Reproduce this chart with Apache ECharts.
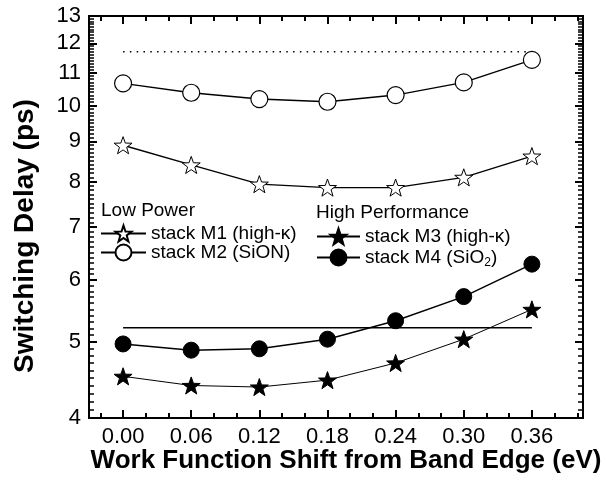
<!DOCTYPE html>
<html><head><meta charset="utf-8">
<script src="https://cdn.jsdelivr.net/npm/echarts@6/dist/echarts.min.js"></script>
<style>html,body{margin:0;padding:0;background:#fff}#c{width:607px;height:489px}</style>
</head><body><div id="c"></div>
<script>
const xValues = [0.00, 0.06, 0.12, 0.18, 0.24, 0.30, 0.36];
const m1 = [8.90, 8.40, 7.94, 7.86, 7.86, 8.10, 8.62];
const m2 = [10.67, 10.38, 10.19, 10.11, 10.31, 10.70, 11.43];
const m3 = [4.52, 4.40, 4.38, 4.47, 4.70, 5.04, 5.50];
const m4 = [4.97, 4.88, 4.90, 5.04, 5.32, 5.71, 6.28];
const dottedRef = 11.71;
const solidRef = 5.21;
const xTicks = [0.00, 0.06, 0.12, 0.18, 0.24, 0.30, 0.36];
const xMinorTicks = [-0.02, 0.02, 0.04, 0.08, 0.10, 0.14, 0.16, 0.20, 0.22, 0.26, 0.28, 0.32, 0.34, 0.38, 0.40];
const yTicks = [4, 5, 6, 7, 8, 9, 10, 11, 12, 13];
const names = ['stack M1 (high-κ)', 'stack M2 (SiON)', 'stack M3 (high-κ)', 'stack M4 (SiO{sub|2})'];

const yMinorTicks = [];
for (let i = 40; i < 130; i++) { if (i % 10 !== 0) yMinorTicks.push(i / 10); }

const STAR = 'path://M50 0 L61.76 33.82 L97.55 34.55 L69.02 56.18 L79.39 90.45 L50 70 L20.61 90.45 L30.98 56.18 L2.45 34.55 L38.24 33.82 Z';
const FONT = 'Liberation Sans';
const XMIN = -0.03, XMAX = 0.405;

function pairs(ys) { return xValues.map((x, i) => [x, ys[i]]); }

function xAxisDef(grid, pos, ticks, len, w, labels) {
  return {
    gridIndex: grid, type: 'value', position: pos, min: XMIN, max: XMAX,
    axisLine: { show: true, onZero: false, lineStyle: { color: '#000', width: 2 } },
    axisTick: { show: true, inside: true, length: len, customValues: ticks, lineStyle: { color: '#000', width: w } },
    axisLabel: labels ? { show: true, customValues: ticks, margin: 8, color: '#000', fontSize: 22, fontFamily: FONT, formatter: v => v.toFixed(2) } : { show: false },
    splitLine: { show: false }
  };
}
function yAxisDef(grid, pos, ticks, len, w, labels) {
  return {
    gridIndex: grid, type: 'log', logBase: 10, position: pos, min: 4, max: 13,
    axisLine: { show: true, onZero: false, lineStyle: { color: '#000', width: 2 } },
    axisTick: { show: true, inside: true, length: len, customValues: ticks, lineStyle: { color: '#000', width: w } },
    axisLabel: labels ? { show: true, customValues: ticks, margin: 8, color: '#000', fontSize: 22, fontFamily: FONT, formatter: v => String(Math.round(v)) } : { show: false },
    splitLine: { show: false }
  };
}

const chart = echarts.init(document.getElementById('c'), null, { renderer: 'canvas' });
const legendText = { color: '#000', fontSize: 19, fontFamily: FONT, rich: { sub: { fontSize: 12, fontFamily: FONT, verticalAlign: 'bottom', padding: [10, 0, 0, 0] } } };
const gridBox = { left: 89, right: 24, top: 16, bottom: 71, containLabel: false };

chart.setOption({
  animation: false,
  backgroundColor: '#fff',
  grid: [Object.assign({}, gridBox), Object.assign({}, gridBox)],
  xAxis: [
    xAxisDef(0, 'bottom', xTicks, 8, 2, true),
    xAxisDef(0, 'top', xTicks, 8, 2, false),
    xAxisDef(1, 'bottom', xMinorTicks, 5, 2, false),
    xAxisDef(1, 'top', xMinorTicks, 5, 2, false)
  ],
  yAxis: [
    yAxisDef(0, 'left', yTicks, 8, 2, true),
    yAxisDef(0, 'right', yTicks, 8, 2, false),
    yAxisDef(1, 'left', yMinorTicks, 5, 1.5, false),
    yAxisDef(1, 'right', yMinorTicks, 5, 1.5, false)
  ],
  title: [
    { text: 'Low Power', left: 101, top: 201, textStyle: { color: '#000', fontSize: 19, fontWeight: 'normal', fontFamily: FONT }, padding: 0 },
    { text: 'High Performance', left: 316, top: 203, textStyle: { color: '#000', fontSize: 19, fontWeight: 'normal', fontFamily: FONT }, padding: 0 }
  ],
  graphic: [
    { type: 'text', x: 11, y: 236, rotation: Math.PI / 2,
      style: { text: 'Switching Delay (ps)', font: 'bold 28px "Liberation Sans"', fill: '#000', align: 'center', verticalAlign: 'top' } },
    { type: 'text', x: 346, y: 461,
      style: { text: 'Work Function Shift from Band Edge (eV)', font: 'bold 26px "Liberation Sans"', fill: '#000', align: 'center', verticalAlign: 'middle' } }
  ],
  legend: [
    { data: [names[0], names[1]], orient: 'vertical', left: 100, top: 224, itemWidth: 45, itemHeight: 20, itemGap: 0, padding: 0, textStyle: legendText, selectedMode: false },
    { data: [names[2], names[3]], orient: 'vertical', left: 316, top: 227, itemWidth: 43, itemHeight: 20, itemGap: 2, padding: 0, textStyle: legendText, selectedMode: false }
  ],
  series: [
    { name: 'dotted', type: 'line', data: [[xTicks[0], dottedRef], [xTicks[xTicks.length - 1], dottedRef]], symbol: 'none', lineStyle: { color: '#000', width: 1.5, type: [1.5, 5.3] }, z: 1 },
    { name: 'solid', type: 'line', data: [[xTicks[0], solidRef], [xTicks[xTicks.length - 1], solidRef]], symbol: 'none', lineStyle: { color: '#000', width: 1.5 }, z: 1 },
    { name: names[0], type: 'line', data: pairs(m1), symbol: STAR, symbolKeepAspect: true, symbolSize: 18, itemStyle: { color: '#fff', borderColor: '#000', borderWidth: 1 }, lineStyle: { color: '#000', width: 1.4 }, z: 3 },
    { name: names[1], type: 'line', data: pairs(m2), symbol: 'circle', symbolSize: 17, itemStyle: { color: '#fff', borderColor: '#000', borderWidth: 1.2 }, lineStyle: { color: '#000', width: 1.4 }, z: 3 },
    { name: names[2], type: 'line', data: pairs(m3), symbol: STAR, symbolKeepAspect: true, symbolSize: 18, itemStyle: { color: '#000', borderColor: '#000', borderWidth: 1 }, lineStyle: { color: '#000', width: 1 }, z: 3 },
    { name: names[3], type: 'line', data: pairs(m4), symbol: 'circle', symbolSize: 16, itemStyle: { color: '#000', borderColor: '#000', borderWidth: 1 }, lineStyle: { color: '#000', width: 1.5 }, z: 3 }
  ]
});
</script></body></html>
